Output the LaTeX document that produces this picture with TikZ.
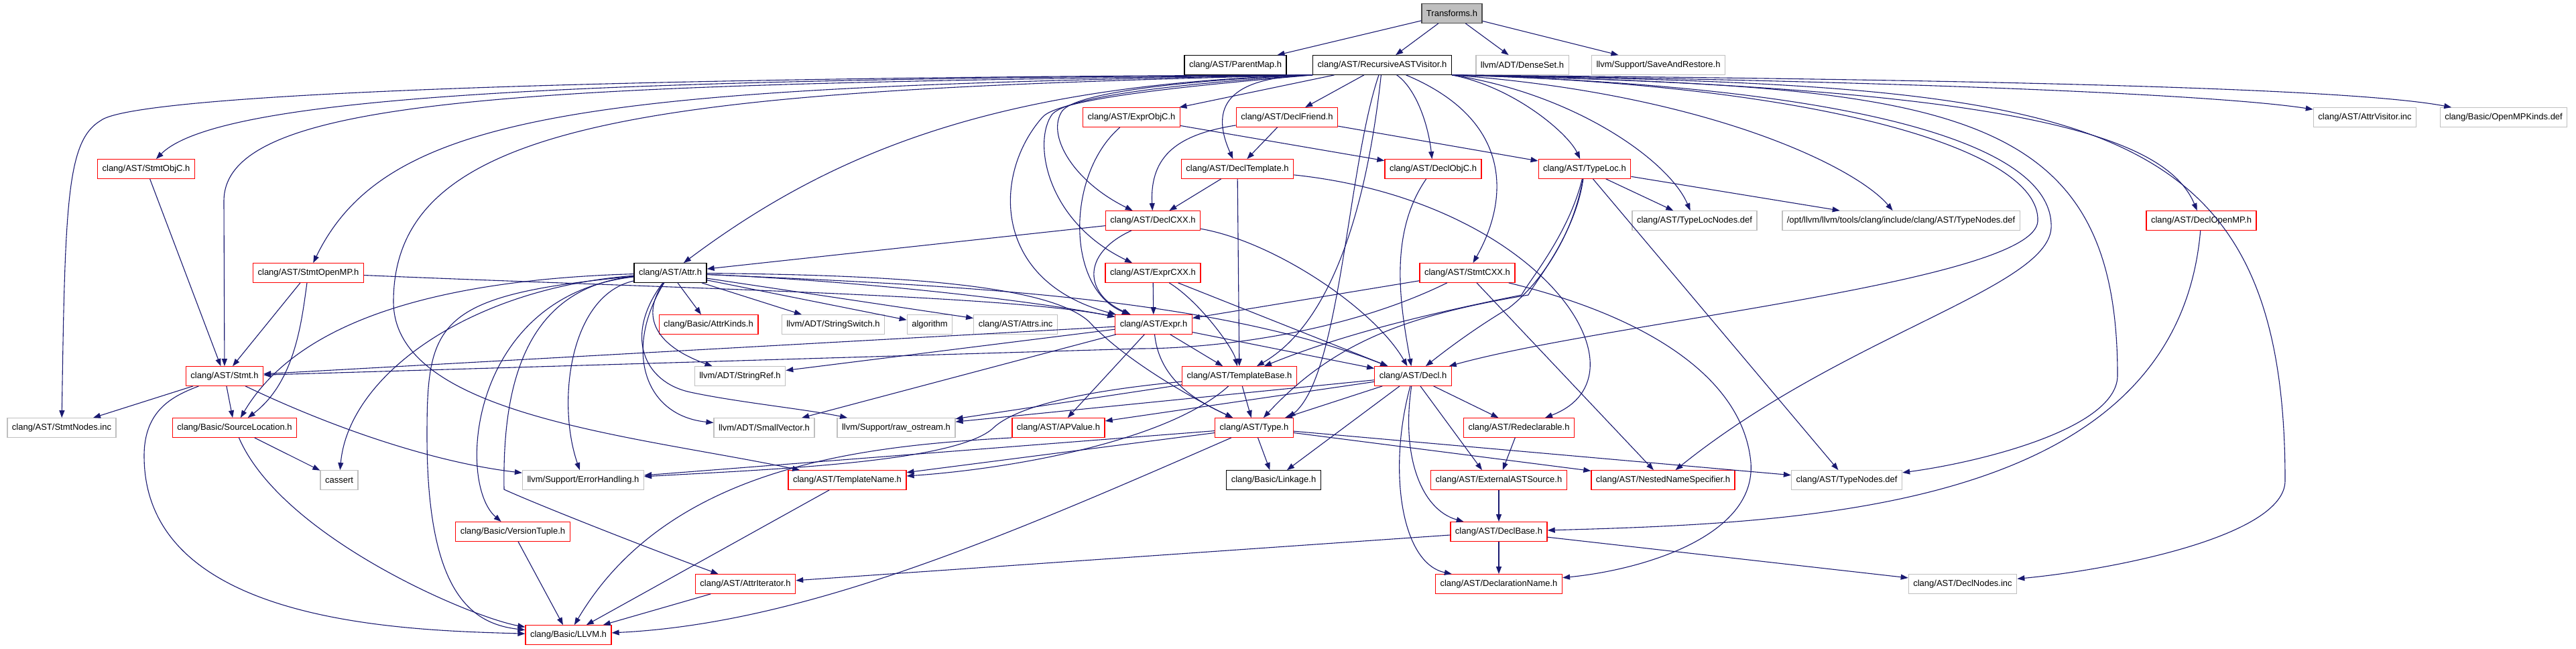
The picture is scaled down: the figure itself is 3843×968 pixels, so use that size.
\documentclass[tikz,border=0pt]{standalone}
\usepackage{fontspec}
\setmainfont{Liberation Sans}
\usetikzlibrary{arrows.meta}
\definecolor{edgeblue}{HTML}{191970}
\definecolor{boxred}{HTML}{FF0000}
\definecolor{boxgrey}{HTML}{BFBFBF}

\begin{document}
\begin{tikzpicture}[x=1pt,y=-1pt,
	every node/.style={font=\fontsize{13}{15}\selectfont,minimum height=28.5pt,inner xsep=7pt,line width=1.3pt},
	redbox/.style={draw=boxred},
	greybox/.style={draw=boxgrey},
	blackbox/.style={draw=black},
	rootbox/.style={draw=black!70,fill=boxgrey},
	dep/.style={draw=edgeblue,line width=1.1pt,-{Triangle[length=11pt,width=8pt]}}]
		\useasboundingbox (0,0) rectangle (3843,968);
		
		\node[rootbox] (trans) at (2166,20) {Transforms.h};
		\node[blackbox] (pmap) at (1843,97) {clang/AST/ParentMap.h};
		\node[blackbox] (rav) at (2062,97) {clang/AST/RecursiveASTVisitor.h};
		\node[greybox] (dset) at (2271,97) {llvm/ADT/DenseSet.h};
		\node[greybox] (saver) at (2474,97) {llvm/Support/SaveAndRestore.h};
		
		\node[redbox] (exprobjc) at (1688,175) {clang/AST/ExprObjC.h};
		\node[redbox] (dfriend) at (1920,175) {clang/AST/DeclFriend.h};
		\node[greybox] (attrvis) at (3528,175) {clang/AST/AttrVisitor.inc};
		\node[greybox] (ompkinds) at (3735,175) {clang/Basic/OpenMPKinds.def};
		
		\node[redbox] (stmtobjc) at (218,252) {clang/AST/StmtObjC.h};
		\node[redbox] (dtempl) at (1846,252) {clang/AST/DeclTemplate.h};
		\node[redbox] (declobjc) at (2138,252) {clang/AST/DeclObjC.h};
		\node[redbox] (typeloc) at (2364,252) {clang/AST/TypeLoc.h};
		
		\node[redbox] (dcxx) at (1720,329) {clang/AST/DeclCXX.h};
		\node[greybox] (tlnodes) at (2528,329) {clang/AST/TypeLocNodes.def};
		\node[greybox] (opttn) at (2836,329) {/opt/llvm/llvm/tools/clang/include/clang/AST/TypeNodes.def};
		\node[redbox] (domp) at (3284,329) {clang/AST/DeclOpenMP.h};
		
		\node[redbox] (stmtomp) at (460,407) {clang/AST/StmtOpenMP.h};
		\node[blackbox] (attr) at (1000,407) {clang/AST/Attr.h};
		\node[redbox] (exprcxx) at (1720,407) {clang/AST/ExprCXX.h};
		\node[redbox] (stmtcxx) at (2189,407) {clang/AST/StmtCXX.h};
		
		\node[redbox] (attrkinds) at (1057,484) {clang/Basic/AttrKinds.h};
		\node[greybox] (sswitch) at (1243,484) {llvm/ADT/StringSwitch.h};
		\node[greybox] (algo) at (1387,484) {algorithm};
		\node[greybox] (attrsinc) at (1515,484) {clang/AST/Attrs.inc};
		\node[redbox] (expr) at (1721,484) {clang/AST/Expr.h};
		
		\node[redbox] (stmt) at (335,561) {clang/AST/Stmt.h};
		\node[greybox] (sref) at (1104,561) {llvm/ADT/StringRef.h};
		\node[redbox] (tbase) at (1849,561) {clang/AST/TemplateBase.h};
		\node[redbox] (decl) at (2108,561) {clang/AST/Decl.h};
		
		\node[greybox] (snodes) at (92,638) {clang/AST/StmtNodes.inc};
		\node[redbox] (srcloc) at (350,638) {clang/Basic/SourceLocation.h};
		\node[greybox] (svec) at (1140,638) {llvm/ADT/SmallVector.h};
		\node[greybox] (rawos) at (1337,638) {llvm/Support/raw\_ostream.h};
		\node[redbox] (apval) at (1579,638) {clang/AST/APValue.h};
		\node[redbox] (type) at (1871,638) {clang/AST/Type.h};
		\node[redbox] (redecl) at (2266,638) {clang/AST/Redeclarable.h};
		
		\node[greybox] (cassert) at (506,716) {cassert};
		\node[greybox] (errh) at (870,716) {llvm/Support/ErrorHandling.h};
		\node[redbox] (tname) at (1264,716) {clang/AST/TemplateName.h};
		\node[blackbox] (linkage) at (1900,716) {clang/Basic/Linkage.h};
		\node[redbox] (extsrc) at (2236,716) {clang/AST/ExternalASTSource.h};
		\node[redbox] (nns) at (2481,716) {clang/AST/NestedNameSpecifier.h};
		\node[greybox] (tnodes) at (2755,716) {clang/AST/TypeNodes.def};
		
		\node[redbox] (vtuple) at (765,793) {clang/Basic/VersionTuple.h};
		\node[redbox] (dbase) at (2236,793) {clang/AST/DeclBase.h};
		
		\node[redbox] (aiter) at (1112,871) {clang/AST/AttrIterator.h};
		\node[redbox] (dname) at (2236,871) {clang/AST/DeclarationName.h};
		\node[greybox] (dnodes) at (2928,871) {clang/AST/DeclNodes.inc};
		
		\node[redbox] (llvmh) at (848,947) {clang/Basic/LLVM.h};
		
		\draw[dep] (trans) -- (pmap);
		\draw[dep] (trans) -- (rav);
		\draw[dep] (trans) -- (dset);
		\draw[dep] (trans) -- (saver);
		
		\draw[dep] (rav.south west) .. controls (900,115) and (200,140) .. (150,180) .. controls (100,210) and (97,300) .. (snodes);
		\draw[dep] (rav.south west) .. controls (900,118) and (330,140) .. (stmtobjc);
		\draw[dep] (rav.south west) .. controls (800,126) and (334,140) .. (334,300) -- (stmt);
		\draw[dep] (rav.south west) .. controls (900,130) and (580,160) .. (stmtomp);
		\draw[dep] (rav.south west) .. controls (1000,135) and (587,170) .. (587,450) .. controls (587,620) and (950,650) .. (tname);
		\draw[dep] (rav.south west) .. controls (1500,125) and (1250,220) .. (attr);
		\draw[dep] (rav) -- (exprobjc);
		\draw[dep] (rav) -- (dfriend);
		\draw[dep] (rav.south west) .. controls (1830,115) and (1805,160) .. (dtempl);
		\draw[dep] (rav.south west) .. controls (1800,118) and (1610,135) .. (1585,165) .. controls (1560,200) and (1600,270) .. (dcxx);
		\draw[dep] (rav.south west) .. controls (1800,122) and (1600,140) .. (1570,170) .. controls (1540,210) and (1560,330) .. (exprcxx);
		\draw[dep] (rav.south west) .. controls (1800,126) and (1580,145) .. (1555,175) .. controls (1480,260) and (1480,420) .. (expr);
		\draw[dep] (rav) .. controls (2110,130) and (2130,180) .. (declobjc);
		\draw[dep] (rav.south east) .. controls (2260,130) and (2340,200) .. (typeloc);
		\draw[dep] (rav) .. controls (2260,180) and (2250,300) .. (stmtcxx);
		\draw[dep] (rav.south east) .. controls (2350,140) and (2490,240) .. (tlnodes);
		\draw[dep] (rav.south east) .. controls (2550,140) and (2770,250) .. (opttn);
		\draw[dep] (rav) .. controls (2010,250) and (2000,560) .. ([xshift=-8pt]type.north east);
		\draw[dep] (rav) .. controls (2040,300) and (1990,480) .. (tbase);
		\draw[dep] (rav.south east) .. controls (2700,125) and (3045,220) .. (3040,330) .. controls (3035,420) and (2400,480) .. (decl);
		\draw[dep] (rav.south east) .. controls (2750,128) and (3065,210) .. (3060,340) .. controls (3055,430) and (2750,500) .. (nns);
		\draw[dep] (rav.south east) .. controls (2900,130) and (3159,150) .. (3159,560) .. controls (3159,640) and (2950,690) .. (tnodes);
		\draw[dep] (rav.south east) .. controls (3000,130) and (3230,200) .. (domp);
		\draw[dep] (rav.south east) .. controls (3100,128) and (3409,150) .. (3409,717) .. controls (3409,800) and (3150,850) .. (dnodes);
		\draw[dep] (rav.south east) .. controls (2800,120) and (3300,140) .. (attrvis);
		\draw[dep] (rav.south east) .. controls (2900,118) and (3500,130) .. (ompkinds);
		
		\draw[dep] (stmtobjc) -- (stmt);
		\draw[dep] (stmtomp) -- (stmt);
		\draw[dep] (stmtomp) .. controls (450,480) and (440,570) .. (srcloc);
		\draw[dep] (stmtomp) .. controls (1000,430) and (1500,440) .. (expr);
		\draw[dep] (exprobjc) -- (declobjc);
		\draw[dep] (exprobjc) .. controls (1590,260) and (1590,430) .. (expr);
		\draw[dep] (dfriend) -- (dtempl);
		\draw[dep] (dfriend) -- (typeloc);
		\draw[dep] (dfriend) .. controls (1760,200) and (1715,230) .. (dcxx);
		\draw[dep] (dtempl) -- (dcxx);
		\draw[dep] (dtempl) -- (tbase);
		\draw[dep] (dtempl) .. controls (2300,300) and (2470,560) .. (redecl);
		\draw[dep] (dcxx) -- (attr);
		\draw[dep] (dcxx) .. controls (1610,380) and (1620,440) .. (expr);
		\draw[dep] (dcxx) .. controls (1900,360) and (2050,460) .. (decl);
		\draw[dep] (exprcxx) -- (expr);
		\draw[dep] (exprcxx) .. controls (1790,450) and (1840,520) .. (tbase);
		\draw[dep] (exprcxx) -- (decl);
		\draw[dep] (declobjc) .. controls (2070,350) and (2090,460) .. (decl);
		\draw[dep] (typeloc) -- (tlnodes);
		\draw[dep] (typeloc) -- (opttn);
		\draw[dep] (typeloc) -- (tnodes);
		\draw[dep] (typeloc) .. controls (2340,350) and (2280,420) .. (2270,440) .. controls (2120,470) and (2000,500) .. (tbase);
		\draw[dep] (typeloc) .. controls (2350,350) and (2290,420) .. (2280,440) .. controls (2100,470) and (1990,510) .. (type);
		\draw[dep] (typeloc) .. controls (2345,360) and (2290,430) .. (2250,460) .. controls (2200,490) and (2160,520) .. (decl);
		\draw[dep] (stmtcxx) .. controls (2000,500) and (1800,520) .. (1700,520) -- (stmt);
		\draw[dep] (stmtcxx) -- (expr);
		\draw[dep] (stmtcxx) -- (nns);
		\draw[dep] (stmtcxx) .. controls (2450,470) and (2600,560) .. (2612,690) .. controls (2620,800) and (2450,850) .. (dname);
		\draw[dep] (domp) .. controls (3247,760) and (2700,780) .. (dbase);
		
		\draw[dep] (attr) -- (attrkinds);
		\draw[dep] (attr) -- (sswitch);
		\draw[dep] (attr) -- (algo);
		\draw[dep] (attr) -- (attrsinc);
		\draw[dep] (attr) .. controls (1300,420) and (1550,450) .. (expr);
		\draw[dep] (attr) .. controls (1400,425) and (1800,440) .. (decl);
		\draw[dep] (attr) .. controls (1300,410) and (1560,420) .. (1625,480) .. controls (1680,540) and (1790,600) .. (type);
		\draw[dep] (attr) .. controls (950,480) and (990,520) .. (sref);
		\draw[dep] (attr) .. controls (930,520) and (960,620) .. (svec);
		\draw[dep] (attr) .. controls (930,500) and (960,570) .. (1030,585) .. controls (1100,600) and (1200,610) .. (rawos);
		\draw[dep] (attr) .. controls (560,420) and (420,520) .. (srcloc);
		\draw[dep] (attr) .. controls (700,430) and (520,560) .. (cassert);
		\draw[dep] (attr) .. controls (850,440) and (830,600) .. (errh);
		\draw[dep] (attr) .. controls (700,440) and (680,720) .. (vtuple);
		\draw[dep] (attr) .. controls (650,440) and (637,480) .. (637,650) .. controls (637,880) and (700,930) .. (llvmh);
		\draw[dep] (attr) .. controls (770,430) and (750,600) .. (752,730) .. controls (800,752) and (960,815) .. (aiter);
		
		\draw[dep] (expr) -- (stmt);
		\draw[dep] (expr) -- (sref);
		\draw[dep] (expr) -- (svec);
		\draw[dep] (expr) -- (apval);
		\draw[dep] (expr) -- (tbase);
		\draw[dep] (expr) -- (decl);
		\draw[dep] (expr) .. controls (1730,570) and (1790,600) .. (type);
		
		\draw[dep] (stmt) -- (snodes);
		\draw[dep] (stmt) -- (srcloc);
		\draw[dep] (stmt) .. controls (500,640) and (650,690) .. (errh);
		\draw[dep] (stmt) .. controls (260,590) and (215,610) .. (215,680) .. controls (215,930) and (600,940) .. (llvmh);
		
		\draw[dep] (tbase) -- (type);
		\draw[dep] (tbase) -- (rawos);
		\draw[dep] (tbase) .. controls (1740,660) and (1500,700) .. (tname);
		\draw[dep] (tbase) .. controls (1650,580) and (1520,600) .. (1480,640) .. controls (1420,690) and (1150,700) .. (errh);
		
		\draw[dep] (decl) -- (apval);
		\draw[dep] (decl) -- (rawos);
		\draw[dep] (decl) -- (type);
		\draw[dep] (decl) -- (linkage);
		\draw[dep] (decl) -- ([xshift=-25pt]extsrc.north);
		\draw[dep] (decl) -- (redecl);
		\draw[dep] (decl) .. controls (2090,680) and (2120,760) .. (dbase);
		\draw[dep] (decl) .. controls (2070,700) and (2090,840) .. (dname);
		
		\draw[dep] (type) -- (linkage);
		\draw[dep] (type) -- (tname);
		\draw[dep] (type) -- (nns);
		\draw[dep] (type) -- (tnodes);
		\draw[dep] (type) -- (errh);
		\draw[dep] (type) .. controls (1500,800) and (1200,930) .. (llvmh);
		
		\draw[dep] (apval.south west) .. controls (1300,665) and (1000,690) .. (llvmh);
		\draw[dep] (tname) -- (llvmh);
		\draw[dep] (aiter) -- (llvmh);
		\draw[dep] (vtuple) -- (llvmh);
		\draw[dep] (srcloc) -- (cassert);
		\draw[dep] (srcloc) .. controls (420,800) and (700,920) .. (llvmh);
		\draw[dep] (redecl) -- (extsrc);
		\draw[dep] (extsrc) -- (dbase);
		\draw[dep] (dbase) -- (dname);
		\draw[dep] (dbase) -- (aiter);
		\draw[dep] (dbase) -- (dnodes);
\end{tikzpicture}
\end{document}
